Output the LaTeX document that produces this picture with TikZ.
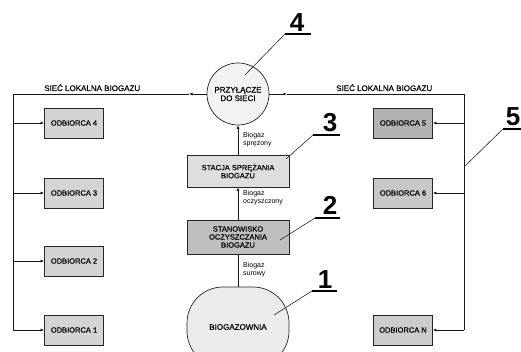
\documentclass[tikz,border=0pt]{standalone}
\usepackage{fontspec}
\setmainfont{Liberation Sans}
\newfontfamily\labelfont[FakeBold=0.5]{Liberation Sans}
\usetikzlibrary{arrows.meta}
\begin{document}
\begin{tikzpicture}[x=1pt,y=-1pt,
  line/.style={draw=black!90, line width=0.8pt},
  tip/.style={-{Latex[length=3.5pt,width=3pt]}},
  unit/.style={draw=black!85, line width=0.8pt, minimum width=59pt, minimum height=30pt,
    inner sep=1pt, font=\labelfont\fontsize{7.5}{8}\selectfont},
  lightbox/.style={unit, fill=black!17},
  darkbox/.style={unit, fill=black!30},
  stage/.style={draw=black!85, line width=0.8pt, minimum width=102pt, inner sep=1pt,
    align=center, font=\labelfont\fontsize{7.5}{8}\selectfont},
  flow/.style={align=left, inner sep=1pt, font=\fontsize{7}{8}\selectfont},
  netlabel/.style={inner sep=0pt, font=\labelfont\fontsize{8}{9}\selectfont},
  num/.style={inner sep=0pt, font=\fontsize{26}{26}\selectfont\bfseries},
  uline/.style={draw=black, line width=2pt},
  leader/.style={draw=black!85, line width=0.6pt}
]
\clip (0,0) rectangle (521,352);

% grid connection point
\node[circle, draw=black!85, line width=0.7pt, fill=black!5, minimum size=62pt,
  inner sep=0pt, align=center, font=\labelfont\fontsize{8}{8.5}\selectfont] (c) at (238,94)
  {PRZYŁĄCZE\\DO SIECI};

% biogas plant, compression and cleaning stages
\node[stage, fill=black!13, minimum height=32pt] (st) at (238,171) {STACJA SPRĘŻANIA\\BIOGAZU};
\node[stage, fill=black!25, minimum height=34pt] (sc) at (238,237) {STANOWISKO\\OCZYSZCZANIA\\BIOGAZU};
\node[draw=black!85, line width=0.7pt, fill=black!8, rounded corners=36pt,
  minimum width=102pt, minimum height=80pt, font=\labelfont\fontsize{8}{9}\selectfont] (bg) at (238,327) {BIOGAZOWNIA};

% consumers
\node[lightbox] (o4) at (74,123) {ODBIORCA 4};
\node[lightbox] (o3) at (74,193) {ODBIORCA 3};
\node[lightbox] (o2) at (74,261) {ODBIORCA 2};
\node[lightbox] (o1) at (74,330) {ODBIORCA 1};
\node[darkbox]  (o5) at (403,123) {ODBIORCA 5};
\node[lightbox, fill=black!22] (o6) at (403,193) {ODBIORCA 6};
\node[lightbox, fill=black!20] (oN) at (403,330) {ODBIORCA N};

% local gas network
\coordinate (nwL) at (13,94);
\coordinate (nwR) at (464,94);
\coordinate (mL) at (189,94);
\coordinate (mR) at (287,94);
\draw[line, tip] (c.west) -- (mL);
\draw[line] (mL) -- (nwL) -- (o1 -| nwL);
\draw[line, tip] (c.east) -- (mR);
\draw[line] (mR) -- (nwR) -- (oN -| nwR);
\foreach \o in {o4,o3,o2,o1} \draw[line, tip] (\o -| nwL) -- (\o.west);
\foreach \o in {o5,o6,oN} \draw[line, tip] (\o -| nwR) -- (\o.east);

\node[netlabel, anchor=base west] (sl) at (44,91) {SIEĆ LOKALNA BIOGAZU};
\node[netlabel, anchor=base west] (sr) at (336,91) {SIEĆ LOKALNA BIOGAZU};

% gas flow through the stages
\draw[line] (bg.north) -- (sc.south);
\draw[line, tip] (sc.north) -- (st.south);
\draw[line, tip] (st.north) -- (c.south);
\node[flow, anchor=west] (f1) at (242,270) {Biogaz\\surowy};
\node[flow, anchor=west] (f2) at (242,198) {Biogaz\\oczyszczony};
\node[flow, anchor=west] (f3) at (242,140) {Biogaz\\sprężony};

% reference numbers with leaders
\node[num, anchor=base] (n4) at (297,32) {4};
\coordinate (u4) at (285,34);
\draw[uline] (u4) -- (311,34);
\draw[leader] (u4) -- (245,75);

\node[num, anchor=base] (n3) at (330,132) {3};
\coordinate (u3) at (313,135);
\draw[uline] (u3) -- (340,135);
\draw[leader] (u3) -- (286,159);

\node[num, anchor=base] (n2) at (330,215) {2};
\coordinate (u2) at (315,218);
\draw[uline] (u2) -- (340,218);
\draw[leader] (u2) -- (280,240);

\node[num, anchor=base] (n1) at (325,288) {1};
\coordinate (u1) at (312,291);
\draw[uline] (u1) -- (337,291);
\draw[leader] (u1) -- (274,315);

\node[num, anchor=base east] (n5) at (520.5,126) {5};
\coordinate (u5) at (503,129);
\draw[uline] (u5) -- (521,129);
\draw[leader] (u5) -- (465,166);
\end{tikzpicture}
\end{document}
